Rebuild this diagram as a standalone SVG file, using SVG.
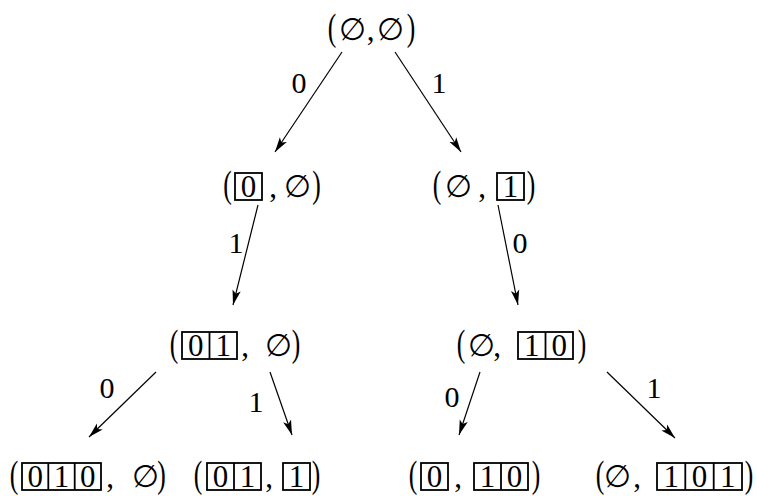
<svg xmlns="http://www.w3.org/2000/svg" width="757" height="496" viewBox="0 0 757 496">
<style>
text{font-family:"Liberation Serif","DejaVu Serif",serif;font-size:31px;text-anchor:middle;fill:#000}
text.p{font-size:32px}
text.l{font-size:30px}
rect.b{fill:none;stroke:#000;stroke-width:1.8}
line.b{stroke:#000;stroke-width:1.8}
#edges line{stroke:#000;stroke-width:1.2;marker-end:url(#ah)}
</style>
<defs>
<marker id="ah" markerUnits="userSpaceOnUse" markerWidth="16" markerHeight="10" viewBox="0 0 16 10" refX="15" refY="5" orient="auto">
<path d="M0,0.8 L15,5 L0,9.2 L3.5,5 z" fill="#000"/>
</marker>
</defs>
<rect width="757" height="496" fill="#fff"/>
<g id="edges">
<line x1="342" y1="52" x2="275" y2="152"/>
<line x1="395" y1="52" x2="461" y2="152"/>
<line x1="258" y1="205" x2="233" y2="305"/>
<line x1="498" y1="205" x2="518" y2="305"/>
<line x1="156" y1="372" x2="89" y2="437"/>
<line x1="270" y1="372" x2="292" y2="435"/>
<line x1="480" y1="372" x2="459" y2="435"/>
<line x1="607" y1="372" x2="675" y2="438"/>
<text class="l" x="299" y="93">0</text>
<text class="l" x="439" y="93">1</text>
<text class="l" x="236" y="253">1</text>
<text class="l" x="520" y="253">0</text>
<text class="l" x="107" y="398">0</text>
<text class="l" x="256" y="412">1</text>
<text class="l" x="452" y="407">0</text>
<text class="l" x="654" y="398">1</text>
</g>
<g id="root">
<text class="p" transform="translate(332 40) scale(0.8 1.2)">(</text>
<text x="352" y="40">∅</text>
<text x="370.5" y="40">,</text>
<text x="390" y="40">∅</text>
<text class="p" transform="translate(411 40) scale(0.8 1.2)">)</text>
</g>
<g id="n0">
<text class="p" transform="translate(227.5 197) scale(0.8 1.2)">(</text>
<rect class="b" x="235" y="173" width="27" height="27"/>
<text x="248.5" y="197">0</text>
<text x="273" y="197">,</text>
<text x="297.5" y="197">∅</text>
<text class="p" transform="translate(316.5 197) scale(0.8 1.2)">)</text>
</g>
<g id="n1">
<text class="p" transform="translate(437 197) scale(0.8 1.2)">(</text>
<text x="458" y="197">∅</text>
<text x="482" y="197">,</text>
<rect class="b" x="497" y="173" width="27" height="27"/>
<text x="510.5" y="197">1</text>
<text class="p" transform="translate(531 197) scale(0.8 1.2)">)</text>
</g>
<g id="n01">
<text class="p" transform="translate(174 356) scale(0.8 1.2)">(</text>
<rect class="b" x="182" y="332" width="55" height="27"/>
<line class="b" x1="209.5" y1="332" x2="209.5" y2="359"/>
<text x="195.75" y="356">0</text>
<text x="223.25" y="356">1</text>
<text x="245" y="356">,</text>
<text x="278.5" y="356">∅</text>
<text class="p" transform="translate(296 356) scale(0.8 1.2)">)</text>
</g>
<g id="n10">
<text class="p" transform="translate(461 356) scale(0.8 1.2)">(</text>
<text x="481" y="356">∅</text>
<text x="497" y="356">,</text>
<rect class="b" x="518" y="332" width="55" height="27"/>
<line class="b" x1="545.5" y1="332" x2="545.5" y2="359"/>
<text x="531.75" y="356">1</text>
<text x="559.25" y="356">0</text>
<text class="p" transform="translate(582 356) scale(0.8 1.2)">)</text>
</g>
<g id="n010">
<text class="p" transform="translate(14 487) scale(0.8 1.2)">(</text>
<rect class="b" x="22" y="463" width="79" height="27"/>
<line class="b" x1="48.3" y1="463" x2="48.3" y2="490"/>
<line class="b" x1="74.7" y1="463" x2="74.7" y2="490"/>
<text x="35.2" y="487">0</text>
<text x="61.5" y="487">1</text>
<text x="87.8" y="487">0</text>
<text x="110" y="487">,</text>
<text x="145" y="487">∅</text>
<text class="p" transform="translate(161.5 487) scale(0.8 1.2)">)</text>
</g>
<g id="n01_1">
<text class="p" transform="translate(198 487) scale(0.8 1.2)">(</text>
<rect class="b" x="207" y="463" width="54" height="27"/>
<line class="b" x1="234" y1="463" x2="234" y2="490"/>
<text x="220.5" y="487">0</text>
<text x="247.5" y="487">1</text>
<text x="269" y="487">,</text>
<rect class="b" x="283" y="463" width="27" height="27"/>
<text x="296.5" y="487">1</text>
<text class="p" transform="translate(316 487) scale(0.8 1.2)">)</text>
</g>
<g id="n0_10">
<text class="p" transform="translate(413 487) scale(0.8 1.2)">(</text>
<rect class="b" x="421" y="463" width="27" height="27"/>
<text x="434.5" y="487">0</text>
<text x="458" y="487">,</text>
<rect class="b" x="474" y="463" width="54" height="27"/>
<line class="b" x1="501" y1="463" x2="501" y2="490"/>
<text x="487.5" y="487">1</text>
<text x="514.5" y="487">0</text>
<text class="p" transform="translate(536 487) scale(0.8 1.2)">)</text>
</g>
<g id="n101">
<text class="p" transform="translate(600 487) scale(0.8 1.2)">(</text>
<text x="617" y="487">∅</text>
<text x="637" y="487">,</text>
<rect class="b" x="657" y="463" width="85" height="27"/>
<line class="b" x1="685.3" y1="463" x2="685.3" y2="490"/>
<line class="b" x1="713.7" y1="463" x2="713.7" y2="490"/>
<text x="671.2" y="487">1</text>
<text x="699.5" y="487">0</text>
<text x="727.8" y="487">1</text>
<text class="p" transform="translate(749 487) scale(0.8 1.2)">)</text>
</g>
</svg>
